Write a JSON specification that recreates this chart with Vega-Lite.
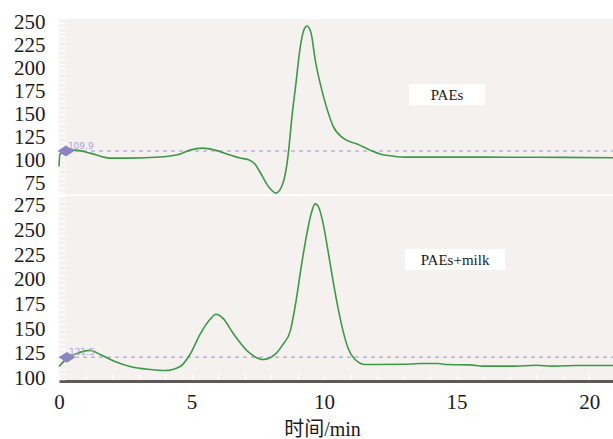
{
  "$schema": "https://vega.github.io/schema/vega-lite/v6.json",
  "padding": {"left": 13, "top": 11, "right": 0, "bottom": 0},
  "background": "white",
  "spacing": 2,
  "bounds": "flush",
  "config": {
    "view": {"fill": "#f4f1ee", "stroke": null},
    "font": "Liberation Serif",
    "axis": {
      "labelFont": "Liberation Serif",
      "labelFontSize": 21,
      "labelColor": "#1a1a1a",
      "tickColor": "white",
      "tickSize": -6,
      "tickWidth": 1.5,
      "grid": false,
      "domain": false,
      "labelPadding": 20,
      "labelFlush": false,
      "labelOverlap": false
    }
  },
  "datasets": {
    "top": [
      {"t": 0, "v": 93}, {"t": 0.03, "v": 106}, {"t": 0.23, "v": 109.8}, {"t": 0.6, "v": 110.9},
      {"t": 1.17, "v": 107.6}, {"t": 1.92, "v": 102.2}, {"t": 2.68, "v": 102.2}, {"t": 3.81, "v": 103.3},
      {"t": 4.57, "v": 106.6}, {"t": 4.94, "v": 110.9}, {"t": 5.43, "v": 113.1}, {"t": 5.89, "v": 110.9},
      {"t": 6.45, "v": 105.5}, {"t": 6.83, "v": 102.2}, {"t": 7.15, "v": 100.5}, {"t": 7.4, "v": 95.5}, {"t": 7.58, "v": 87},
      {"t": 7.89, "v": 71.6}, {"t": 8.19, "v": 64}, {"t": 8.45, "v": 74.9}, {"t": 8.64, "v": 104.4},
      {"t": 8.79, "v": 148}, {"t": 8.94, "v": 184}, {"t": 9.09, "v": 221.2}, {"t": 9.25, "v": 243},
      {"t": 9.36, "v": 246.3}, {"t": 9.51, "v": 238.6}, {"t": 9.66, "v": 210.3}, {"t": 9.85, "v": 184},
      {"t": 10.08, "v": 158.9}, {"t": 10.34, "v": 137.1}, {"t": 10.72, "v": 124}, {"t": 11.25, "v": 117.5},
      {"t": 11.74, "v": 110.9}, {"t": 12.11, "v": 106.6}, {"t": 12.6, "v": 104.4}, {"t": 13.06, "v": 103.3},
      {"t": 15.0, "v": 103.3}, {"t": 17.0, "v": 103.1}, {"t": 19.0, "v": 103.0}, {"t": 20.9, "v": 102.5}
    ],
    "bottom": [
      {"t": 0, "v": 112.2}, {"t": 0.3, "v": 120.3}, {"t": 0.68, "v": 125.4}, {"t": 1.17, "v": 128.5},
      {"t": 1.55, "v": 124.4}, {"t": 2.11, "v": 117.3}, {"t": 2.68, "v": 112.2}, {"t": 3.43, "v": 109.2},
      {"t": 4.0, "v": 108.1}, {"t": 4.57, "v": 112.2}, {"t": 4.94, "v": 124.4}, {"t": 5.32, "v": 144.8},
      {"t": 5.7, "v": 160}, {"t": 5.92, "v": 165.1}, {"t": 6.19, "v": 161}, {"t": 6.57, "v": 145.8},
      {"t": 7.21, "v": 125.4}, {"t": 7.7, "v": 119.3}, {"t": 8.15, "v": 124.4}, {"t": 8.45, "v": 134.6},
      {"t": 8.72, "v": 147.8}, {"t": 8.94, "v": 178.3}, {"t": 9.13, "v": 211.9}, {"t": 9.32, "v": 242.4},
      {"t": 9.51, "v": 266.8}, {"t": 9.66, "v": 277}, {"t": 9.77, "v": 275}, {"t": 9.96, "v": 257.7},
      {"t": 10.15, "v": 229.2}, {"t": 10.34, "v": 198.7}, {"t": 10.53, "v": 171.2}, {"t": 10.72, "v": 147.8},
      {"t": 10.91, "v": 130.5}, {"t": 11.17, "v": 119.3}, {"t": 11.55, "v": 114.2}, {"t": 12.0, "v": 114.2},
      {"t": 13.0, "v": 114.4}, {"t": 13.6, "v": 115.2}, {"t": 14.3, "v": 115.2}, {"t": 14.6, "v": 114.2},
      {"t": 15.5, "v": 113.8}, {"t": 16.0, "v": 112.6}, {"t": 17.2, "v": 112.6}, {"t": 18.0, "v": 113.4},
      {"t": 18.6, "v": 112.6}, {"t": 19.5, "v": 113.2}, {"t": 20.9, "v": 113.2}
    ],
    "ann": [
      {"panel": "top", "kind": "box", "t": 13.21, "t2": 16.08, "v": 183, "v2": 160},
      {"panel": "top", "kind": "label", "t": 14.64, "v": 171.5, "label": "PAEs"},
      {"panel": "top", "kind": "ref", "t": 0, "t2": 20.9, "v": 109.9},
      {"panel": "top", "kind": "marker", "t": 0.26, "v": 109.9, "label": "109.9"},
      {"panel": "bottom", "kind": "box", "t": 13.06, "t2": 16.83, "v": 231.2, "v2": 209.9},
      {"panel": "bottom", "kind": "label", "t": 14.94, "v": 220.5, "label": "PAEs+milk"},
      {"panel": "bottom", "kind": "ref", "t": 0, "t2": 20.9, "v": 121.5},
      {"panel": "bottom", "kind": "marker", "t": 0.3, "v": 121.5, "label": "121.5"}
    ]
  },
  "vconcat": [
    {
      "width": 554,
      "height": 175,
      "encoding": {
        "x": {"field": "t", "type": "quantitative", "scale": {"domain": [0, 20.9], "nice": false}, "axis": null},
        "y": {"field": "v", "type": "quantitative", "scale": {"domain": [63, 254], "nice": false, "zero": false},
          "axis": {"title": null, "values": [65,70,75,80,85,90,95,100,105,110,115,120,125,130,135,140,145,150,155,160,165,170,175,180,185,190,195,200,205,210,215,220,225,230,235,240,245,250],
            "labelExpr": "datum.value % 25 == 0 ? datum.label : ''"}}
      },
      "layer": [
        {"data": {"name": "ann"}, "transform": [{"filter": "datum.panel == 'top' && datum.kind == 'box'"}],
          "mark": {"type": "rect", "fill": "white"},
          "encoding": {"x2": {"field": "t2"}, "y2": {"field": "v2"}}},
        {"data": {"name": "ann"}, "transform": [{"filter": "datum.panel == 'top' && datum.kind == 'label'"}],
          "mark": {"type": "text", "font": "Liberation Serif", "fontSize": 15, "color": "#1a1a1a"},
          "encoding": {"text": {"field": "label"}}},
        {"data": {"name": "ann"}, "transform": [{"filter": "datum.panel == 'top' && datum.kind == 'ref'"}],
          "mark": {"type": "rule", "color": "#b9b2e2", "strokeDash": [4, 4], "strokeWidth": 1.5},
          "encoding": {"x2": {"field": "t2"}}},
        {"data": {"name": "top"}, "mark": {"type": "line", "color": "#3c9a45", "strokeWidth": 1.6, "interpolate": "monotone"}},
        {"data": {"name": "ann"}, "transform": [{"filter": "datum.panel == 'top' && datum.kind == 'marker'"}],
          "mark": {"type": "text", "font": "DejaVu Sans", "fontSize": 9, "color": "#aaa4d8", "align": "left", "dx": 2, "dy": -5},
          "encoding": {"text": {"field": "label"}}},
        {"data": {"name": "ann"}, "transform": [{"filter": "datum.panel == 'top' && datum.kind == 'marker'"}],
          "mark": {"type": "point", "shape": "M-1,0L0,-0.65L1,0L0,0.65Z", "size": 280, "filled": true, "color": "#8a84c4", "opacity": 1}}
      ]
    },
    {
      "width": 554,
      "height": 185,
      "encoding": {
        "x": {"field": "t", "type": "quantitative", "scale": {"domain": [0, 20.9], "nice": false},
          "axis": {"title": "时间/min", "titleFont": "Liberation Serif, Noto Sans CJK SC", "titleFontSize": 20, "titleFontWeight": "normal", "titleColor": "#1a1a1a",
            "titleX": 263, "titleY": 54, "titleBaseline": "alphabetic",
            "domain": true, "domainColor": "#5e5858", "domainWidth": 3, "tickSize": -7, "labelPadding": 17,
            "values": [0,1,2,3,4,5,6,7,8,9,10,11,12,13,14,15,16,17,18,19,20],
            "labelExpr": "datum.value % 5 == 0 ? datum.label : ''"}},
        "y": {"field": "v", "type": "quantitative", "scale": {"domain": [97.5, 285], "nice": false, "zero": false},
          "axis": {"title": null, "values": [100,105,110,115,120,125,130,135,140,145,150,155,160,165,170,175,180,185,190,195,200,205,210,215,220,225,230,235,240,245,250,255,260,265,270,275,280,285],
            "labelExpr": "datum.value % 25 == 0 ? datum.label : ''"}}
      },
      "layer": [
        {"data": {"name": "ann"}, "transform": [{"filter": "datum.panel == 'bottom' && datum.kind == 'box'"}],
          "mark": {"type": "rect", "fill": "white"},
          "encoding": {"x2": {"field": "t2"}, "y2": {"field": "v2"}}},
        {"data": {"name": "ann"}, "transform": [{"filter": "datum.panel == 'bottom' && datum.kind == 'label'"}],
          "mark": {"type": "text", "font": "Liberation Serif", "fontSize": 15, "color": "#1a1a1a"},
          "encoding": {"text": {"field": "label"}}},
        {"data": {"name": "ann"}, "transform": [{"filter": "datum.panel == 'bottom' && datum.kind == 'ref'"}],
          "mark": {"type": "rule", "color": "#b9b2e2", "strokeDash": [4, 4], "strokeWidth": 1.5},
          "encoding": {"x2": {"field": "t2"}}},
        {"data": {"name": "bottom"}, "mark": {"type": "line", "color": "#3c9a45", "strokeWidth": 1.6, "interpolate": "monotone"}},
        {"data": {"name": "ann"}, "transform": [{"filter": "datum.panel == 'bottom' && datum.kind == 'marker'"}],
          "mark": {"type": "text", "font": "DejaVu Sans", "fontSize": 9, "color": "#aaa4d8", "align": "left", "dx": 2, "dy": -5},
          "encoding": {"text": {"field": "label"}}},
        {"data": {"name": "ann"}, "transform": [{"filter": "datum.panel == 'bottom' && datum.kind == 'marker'"}],
          "mark": {"type": "point", "shape": "M-1,0L0,-0.65L1,0L0,0.65Z", "size": 280, "filled": true, "color": "#8a84c4", "opacity": 1}}
      ]
    }
  ]
}
